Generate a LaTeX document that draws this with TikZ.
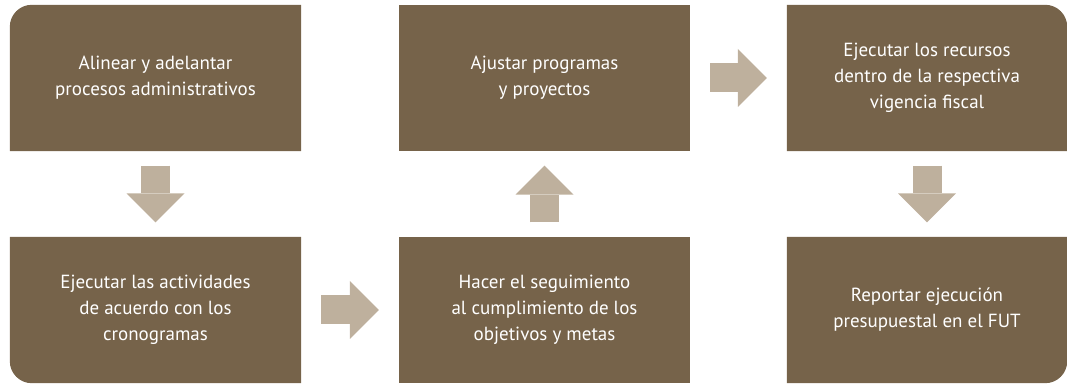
\documentclass[tikz,border=0pt]{standalone}
\usepackage{fontspec}
\setmainfont{PT Sans}
\usetikzlibrary{arrows.meta,backgrounds}
\definecolor{boxbrown}{RGB}{118,99,74}
\definecolor{arrowtan}{RGB}{190,176,157}

\begin{document}
\begin{tikzpicture}[x=1pt,y=1pt,
	box/.style={minimum width=291pt,minimum height=146pt,inner sep=0pt,
		text=white,align=center,font=\fontsize{19}{26}\selectfont},
	flow/.style={draw=arrowtan,line width=29pt,
		-{Triangle[width=58pt,length=29pt,line width=0pt]},
		shorten <=#1,shorten >=#1}]
	\useasboundingbox (0,0) rectangle (1067,385);
	
	% top row
	\node[box]                    (align)  at (155.5,307) {Alinear y adelantar\\procesos administrativos};
	\node[box]                    (adjust) at (544.5,307) {Ajustar programas\\y proyectos};
	\node[box,minimum width=280pt] (spend)  at (927,307)   {Ejecutar los recursos\\dentro de la respectiva\\vigencia fiscal};
	% bottom row
	\node[box]                    (run)    at (155.5,75)  {Ejecutar las actividades\\de acuerdo con los\\cronogramas};
	\node[box]                    (track)  at (544.5,75)  {Hacer el seguimiento\\al cumplimiento de los\\objetivos y metas};
	\node[box,minimum width=280pt] (report) at (927,75)    {Reportar ejecución\\presupuestal en el FUT};
	
	\begin{scope}[on background layer]
		\fill[boxbrown] (align.south east) -- (align.south west) -- ([yshift=-22pt]align.north west)
			arc[start angle=180,end angle=90,radius=22pt] -- (align.north east) -- cycle;
		\fill[boxbrown] (run.north east) -- (run.north west) -- ([yshift=22pt]run.south west)
			arc[start angle=180,end angle=270,radius=22pt] -- (run.south east) -- cycle;
		\fill[boxbrown] (adjust.south west) rectangle (adjust.north east);
		\fill[boxbrown] (track.south west) rectangle (track.north east);
		\fill[boxbrown] (spend.south west) -- (spend.north west) -- ([xshift=-22pt]spend.north east)
			arc[start angle=90,end angle=0,radius=22pt] -- (spend.south east) -- cycle;
		\fill[boxbrown] (report.north west) -- (report.south west) -- ([xshift=-22pt]report.south east)
			arc[start angle=270,end angle=360,radius=22pt] -- (report.north east) -- cycle;
	\end{scope}
	
	\draw[flow=14.5pt] (align) -- (run);
	\draw[flow=20pt]   (run) -- (track);
	\draw[flow=14.5pt] (track) -- (adjust);
	\draw[flow=20pt]   (adjust) -- (spend);
	\draw[flow=14.5pt] (spend) -- (report);
\end{tikzpicture}
\end{document}
